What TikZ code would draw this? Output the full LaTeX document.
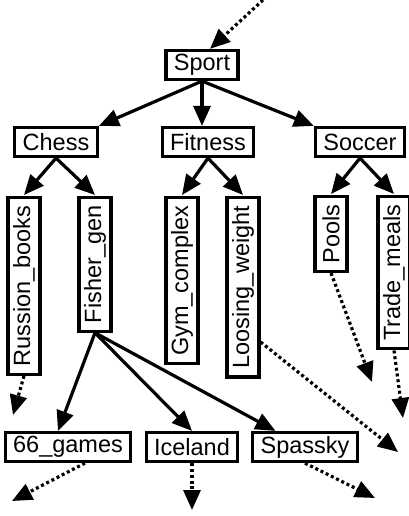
\documentclass[tikz,border=0pt]{standalone}
\usepackage{fontspec}
\setmainfont{Liberation Sans}
\usepackage{tikz}
\usetikzlibrary{arrows.meta, positioning, calc}
\tikzset{
  topic/.style={rectangle, draw=black, line width=3.2pt, fill=white, inner xsep=8pt, inner ysep=0pt, minimum height=29pt, text centered, font=\fontsize{23.5}{23.5}\selectfont},
  vtopic/.style={topic, rotate=90, anchor=east, minimum height=32pt},
  arrow/.style={line width=3.2pt, -{Triangle[length=20pt, width=17pt]}},
  dotarrow/.style={arrow, dash pattern=on 3pt off 2.8pt}
}

\begin{document}
\begin{tikzpicture}[x=1pt, y=-1pt]
\useasboundingbox (0,0) rectangle (409,516);

% Root and first level
\node (sport) [topic] at (202,65) {Sport};
\node (chess) [topic] at (56,142) {Chess};
\node (fitness) [topic] at (208,142) {Fitness};
\node (soccer) [topic] at (360,142) {Soccer};

% Second level (vertical boxes, anchored at their top)
\node (russion) [vtopic] at (24,196) {Russion\_books};
\node (fisher) [vtopic] at (95,196) {Fisher\_gen};
\node (gym) [vtopic] at (182,196) {Gym\_complex};
\node (loosing) [vtopic] at (243,196) {Loosing\_weight};
\node (pools) [vtopic] at (331,195) {Pools};
\node (trade) [vtopic] at (394,195) {Trade\_meals};

% Third level
\node (games) [topic] at (68,447) {66\_games};
\node (iceland) [topic] at (192,447) {Iceland};
\node (spassky) [topic] at (305,447) {Spassky};

% Loose ends of the dotted arrows
\coordinate (fromTop) at (263,0);
\coordinate (endRussion) at (13,415);
\coordinate (endPools) at (372,382);
\coordinate (endTrade) at (403,418);
\coordinate (endLoosing) at (398,452);
\coordinate (endGames) at (12,501);
\coordinate (endIceland) at (192,510);
\coordinate (endSpassky) at (375,498);

% Arrows
\draw [arrow] (sport.south) -- (chess.north east);
\draw [arrow] (sport.south) -- (sport.south |- fitness.north);
\draw [arrow] (sport.south) -- (soccer.north west);
\draw [arrow] (chess.south) -- ([yshift=1pt]russion.east);
\draw [arrow] (chess.south) -- ([yshift=1pt]fisher.east);
\draw [arrow] (fitness.south) -- ([yshift=1pt]gym.east);
\draw [arrow] (fitness.south) -- ([yshift=1pt]loosing.east);
\draw [arrow] (soccer.south) -- ([yshift=1pt]pools.east);
\draw [arrow] (soccer.south) -- ([yshift=1pt]trade.east);
\draw [arrow] (fisher.west) -- ([xshift=-10pt]games.north);
\draw [arrow] (fisher.west) -- (iceland.north);
\draw [arrow] (fisher.west) -- (spassky);

% Dotted arrows
\draw [dotarrow] (fromTop) -- ([xshift=8pt]sport.north);
\draw [dotarrow] (russion.west) -- (endRussion);
\draw [dotarrow] (pools.west) -- (endPools);
\draw [dotarrow] (trade.west) -- (endTrade);
\draw [dotarrow] ($(loosing.south)!0.6!(loosing.south west)$) -- (endLoosing);
\draw [dotarrow] ([xshift=17pt]games.south) -- (endGames);
\draw [dotarrow] (iceland.south) -- (endIceland);
\draw [dotarrow] (spassky.south) -- (endSpassky);

\end{tikzpicture}
\end{document}
